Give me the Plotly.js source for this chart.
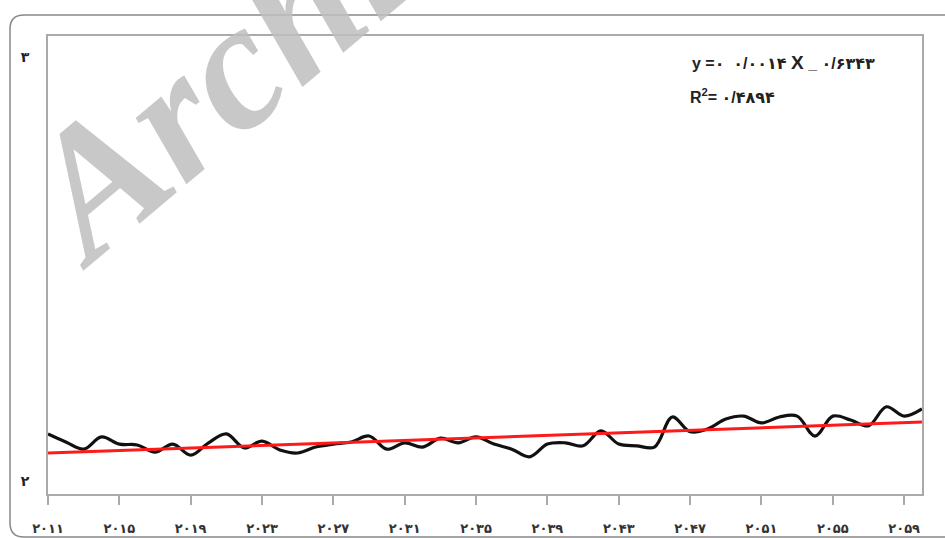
<!DOCTYPE html>
<html>
<head>
<meta charset="utf-8">
<script src="https://cdn.plot.ly/plotly-3.0.1.min.js"></script>
<style>html,body{margin:0;padding:0;background:#fff;}#chart{width:945px;height:538px;}</style>
</head>
<body>
<div id="chart"></div>
<script>
// Data
const years = [2011,2012,2013,2014,2015,2016,2017,2018,2019,2020,
               2021,2022,2023,2024,2025,2026,2027,2028,2029,2030,
               2031,2032,2033,2034,2035,2036,2037,2038,2039,2040,
               2041,2042,2043,2044,2045,2046,2047,2048,2049,2050,
               2051,2052,2053,2054,2055,2056,2057,2058,2059,2060];
const values = [2.111,2.092,2.075,2.104,2.087,2.085,2.068,2.087,2.061,2.090,
                2.111,2.078,2.094,2.073,2.066,2.080,2.087,2.092,2.106,2.075,
                2.090,2.080,2.101,2.090,2.104,2.087,2.075,2.057,2.087,2.090,
                2.083,2.118,2.087,2.083,2.080,2.151,2.116,2.123,2.146,2.153,
                2.137,2.151,2.153,2.106,2.153,2.144,2.130,2.175,2.153,2.170];
const trendYears = [2011, 2060];
const trendValues = [2.066, 2.139];
const xTickVals = [2011,2015,2019,2023,2027,2031,2035,2039,2043,2047,2051,2055,2059];
const xTickText = ['۲۰۱۱','۲۰۱۵','۲۰۱۹','۲۰۲۳','۲۰۲۷','۲۰۳۱','۲۰۳۵','۲۰۳۹','۲۰۴۳','۲۰۴۷','۲۰۵۱','۲۰۵۵','۲۰۵۹'];
const yTickVals = [2, 3];
const yTickText = ['۲', '۳'];
const equationText = 'y =۰  ۰/۰۰۱۴ <span style="font-size:19px">X</span> _ ۰/۶۳۴۳';
const r2Text = 'R<sup>2</sup>= ۰/۴۸۹۴';
const watermark = 'Archive';

const W = 945, H = 538;
const m = {l: 48, r: 23, t: 36, b: 44};
const pw = W - m.l - m.r, ph = H - m.t - m.b;
const px = x => (x - m.l) / pw;
const py = y => (m.t + ph - y) / ph;

// rounded outer frame
const x0 = px(10), x1 = px(960), y0 = py(15), y1 = py(537);
const rx = 14 / pw, ry = 14 / ph;
const framePath = `M ${x0} ${y1 + ry} L ${x0} ${y0 - ry} Q ${x0} ${y0} ${x0 + rx} ${y0} L ${x1} ${y0} M ${x0} ${y1 + ry} Q ${x0} ${y1} ${x0 + rx} ${y1} L ${x1} ${y1}`;

const traces = [
  {x: years, y: values, type: 'scatter', mode: 'lines',
   line: {color: '#111', width: 3.2, shape: 'spline', smoothing: 1}, hoverinfo: 'skip'},
  {x: trendYears, y: trendValues, type: 'scatter', mode: 'lines',
   line: {color: '#ff1a1a', width: 3}, hoverinfo: 'skip'}
];

const tickFont = {family: 'DejaVu Sans, Liberation Sans, sans-serif', size: 13, color: '#333', weight: 'bold'};

const layout = {
  width: W, height: H,
  margin: m,
  paper_bgcolor: '#fff', plot_bgcolor: '#fff',
  showlegend: false,
  xaxis: {
    range: [2011, 2060], tickvals: xTickVals, ticktext: xTickText,
    showgrid: false, zeroline: false, showline: true, mirror: true,
    linecolor: '#aaa', linewidth: 2,
    ticks: 'outside', ticklen: 9, tickwidth: 2, tickcolor: '#aaa',
    tickfont: tickFont, ticklabelstandoff: 12
  },
  yaxis: {
    range: [1.9693, 3.0495], tickvals: yTickVals, ticktext: yTickText,
    showgrid: false, zeroline: false, showline: true, mirror: true,
    linecolor: '#aaa', linewidth: 2, ticks: '',
    tickfont: {family: 'DejaVu Sans, sans-serif', size: 14, color: '#222', weight: 'bold'},
    ticklabelstandoff: 14
  },
  shapes: [
    {type: 'path', xref: 'paper', yref: 'paper', path: framePath,
     line: {color: '#888', width: 1.5}, layer: 'above'}
  ],
  annotations: [
    {xref: 'paper', yref: 'paper', x: px(272), y: py(33), xanchor: 'center', yanchor: 'middle',
     text: watermark, showarrow: false, textangle: -40,
     font: {family: 'Liberation Serif, serif', size: 182, color: 'rgba(190,190,190,0.85)', weight: 'bold', style: 'italic'}},
    {xref: 'paper', yref: 'paper', x: px(690), y: py(62), xanchor: 'left', yanchor: 'middle',
     text: equationText, showarrow: false,
     font: {family: 'Liberation Sans, DejaVu Sans, sans-serif', size: 16, color: '#222', weight: 'bold'}},
    {xref: 'paper', yref: 'paper', x: px(688), y: py(96), xanchor: 'left', yanchor: 'middle',
     text: r2Text, showarrow: false,
     font: {family: 'Liberation Sans, DejaVu Sans, sans-serif', size: 16, color: '#222', weight: 'bold'}}
  ]
};

Plotly.newPlot('chart', traces, layout, {displayModeBar: false, staticPlot: true});
</script>
</body>
</html>
